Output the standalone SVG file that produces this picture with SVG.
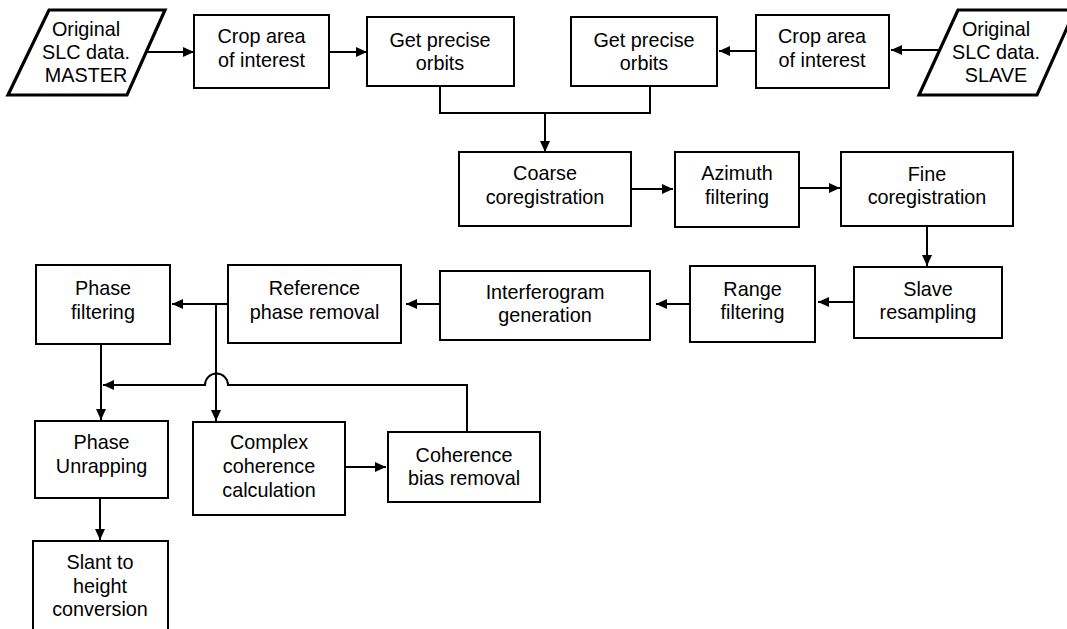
<svg xmlns="http://www.w3.org/2000/svg" width="1067" height="629" viewBox="0 0 1067 629">
<style>
.box{fill:#fff;stroke:#000;stroke-width:2}
.io{fill:#fff;stroke:#000;stroke-width:3.2;stroke-linejoin:miter}
.t{font-family:"Liberation Sans",Arial,sans-serif;font-size:19.8px;fill:#000;text-anchor:middle}
.c{fill:none;stroke:#000;stroke-width:2}
.a{fill:none;stroke:#000;stroke-width:2;marker-end:url(#ah)}
</style>
<defs>
<marker id="ah" markerUnits="userSpaceOnUse" markerWidth="12" markerHeight="10" refX="11" refY="5" orient="auto">
<path d="M0,0 L11,5 L0,10 z" fill="#000"/>
</marker>
</defs>
<rect width="1067" height="629" fill="#fff"/>
<g id="connectors">
<line class="a" x1="146" y1="52" x2="194" y2="52"/>
<line class="a" x1="329" y1="52" x2="367" y2="52"/>
<line class="a" x1="756" y1="51" x2="719" y2="51"/>
<line class="a" x1="939" y1="50" x2="891" y2="50"/>
<polyline class="c" points="440,86 440,113 650,113 650,86"/>
<line class="a" x1="545" y1="113" x2="545" y2="152"/>
<line class="a" x1="631" y1="189" x2="673" y2="189"/>
<line class="a" x1="799" y1="188" x2="840" y2="188"/>
<line class="a" x1="927" y1="226" x2="927" y2="266"/>
<line class="a" x1="854" y1="302" x2="818" y2="302"/>
<line class="a" x1="690" y1="304" x2="656" y2="304"/>
<line class="a" x1="440" y1="304" x2="406" y2="304"/>
<line class="a" x1="228" y1="304" x2="172" y2="304"/>
<line class="a" x1="216" y1="304" x2="216" y2="421"/>
<line class="a" x1="101" y1="344" x2="101" y2="420"/>
<path class="a" d="M467,432 L467,385 L228,385 A11.5,11.5 0 0 0 205,385 L103,385"/>
<line class="a" x1="345" y1="467" x2="386" y2="467"/>
<line class="a" x1="100" y1="498" x2="100" y2="540"/>
</g>
<g id="master">
<polygon class="io" points="49,10 165,10 127,95 8,95"/>
<text class="t" x="86" y="36">Original</text>
<text class="t" x="86" y="59">SLC data.</text>
<text class="t" x="86" y="82">MASTER</text>
</g>
<g id="crop1">
<rect class="box" x="194" y="15" width="135" height="73"/>
<text class="t" x="261.5" y="43">Crop area</text>
<text class="t" x="261.5" y="67">of interest</text>
</g>
<g id="orbits1">
<rect class="box" x="367" y="17" width="147" height="69"/>
<text class="t" x="440" y="47">Get precise</text>
<text class="t" x="440" y="70">orbits</text>
</g>
<g id="orbits2">
<rect class="box" x="571" y="17" width="146" height="69"/>
<text class="t" x="644" y="47">Get precise</text>
<text class="t" x="644" y="70">orbits</text>
</g>
<g id="crop2">
<rect class="box" x="756" y="15" width="133" height="73"/>
<text class="t" x="822" y="43">Crop area</text>
<text class="t" x="822" y="67">of interest</text>
</g>
<g id="slave">
<polygon class="io" points="958,10 1075,10 1037,95 919,95"/>
<text class="t" x="996" y="36">Original</text>
<text class="t" x="996" y="59">SLC data.</text>
<text class="t" x="996" y="82">SLAVE</text>
</g>
<g id="coarse">
<rect class="box" x="459" y="152" width="172" height="74"/>
<text class="t" x="545" y="180">Coarse</text>
<text class="t" x="545" y="204">coregistration</text>
</g>
<g id="azimuth">
<rect class="box" x="675" y="152" width="124" height="75"/>
<text class="t" x="737" y="180">Azimuth</text>
<text class="t" x="737" y="204">filtering</text>
</g>
<g id="fine">
<rect class="box" x="841" y="152" width="172" height="74"/>
<text class="t" x="927" y="181">Fine</text>
<text class="t" x="927" y="204">coregistration</text>
</g>
<g id="resampling">
<rect class="box" x="854" y="267" width="148" height="71"/>
<text class="t" x="928" y="296">Slave</text>
<text class="t" x="928" y="319">resampling</text>
</g>
<g id="range">
<rect class="box" x="690" y="266" width="125" height="76"/>
<text class="t" x="752.5" y="296">Range</text>
<text class="t" x="752.5" y="319">filtering</text>
</g>
<g id="interferogram">
<rect class="box" x="440" y="271" width="210" height="69"/>
<text class="t" x="545" y="299">Interferogram</text>
<text class="t" x="545" y="322">generation</text>
</g>
<g id="reference">
<rect class="box" x="228" y="265" width="173" height="78"/>
<text class="t" x="314.5" y="295">Reference</text>
<text class="t" x="314.5" y="319">phase removal</text>
</g>
<g id="phasefilter">
<rect class="box" x="36" y="265" width="134" height="79"/>
<text class="t" x="103" y="295">Phase</text>
<text class="t" x="103" y="319">filtering</text>
</g>
<g id="unwrapping">
<rect class="box" x="35" y="421" width="133" height="77"/>
<text class="t" x="101.5" y="449">Phase</text>
<text class="t" x="101.5" y="473">Unrapping</text>
</g>
<g id="complex">
<rect class="box" x="193" y="422" width="152" height="93"/>
<text class="t" x="269" y="449">Complex</text>
<text class="t" x="269" y="473">coherence</text>
<text class="t" x="269" y="497">calculation</text>
</g>
<g id="bias">
<rect class="box" x="388" y="432" width="152" height="70"/>
<text class="t" x="464" y="462">Coherence</text>
<text class="t" x="464" y="485">bias removal</text>
</g>
<g id="slant">
<rect class="box" x="33" y="541" width="135" height="100"/>
<text class="t" x="100" y="569">Slant to</text>
<text class="t" x="100" y="593">height</text>
<text class="t" x="100" y="616">conversion</text>
</g>
</svg>
